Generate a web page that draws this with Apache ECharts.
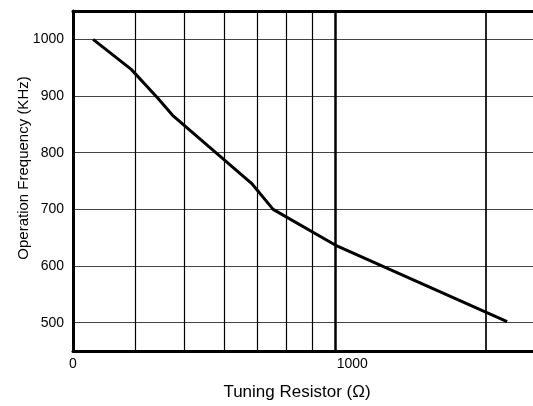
<!DOCTYPE html>
<html>
<head>
<meta charset="utf-8">
<script src="https://cdn.jsdelivr.net/npm/echarts@6/dist/echarts.min.js"></script>
<style>
  html, body { margin: 0; padding: 0; background: #fff; }
  #chart { width: 533px; height: 406px; }
</style>
</head>
<body>
<div id="chart"></div>
<script>
// Data
const resistance = [329, 392, 443, 474, 681, 752, 1000, 2202];   // Ω
const frequency  = [1000, 947, 896, 866, 746, 700, 637, 502];     // KHz
const gridX = [400, 500, 600, 700, 800, 900, 1000, 2000];         // vertical grid lines (Ω)
const xTickLabels = { 300: '0', 1000: '1000' };
const xTitle = 'Tuning Resistor (Ω)';
const yTitle = 'Operation Frequency (KHz)';

const FONT = "'Liberation Sans', Arial, sans-serif";
const chart = echarts.init(document.getElementById('chart'), null, { renderer: 'canvas' });

const gridLineStyle = v => {
  if (v === 1000) return { color: '#000', width: 2.5, type: 'solid' };
  if (v === 2000) return { color: '#000', width: 1.7, type: 'solid' };
  return { color: '#000', width: 1.2, type: 'solid' };
};

const boldLine = { show: true, onZero: false, lineStyle: { color: '#000', width: 3 } };

chart.setOption({
  animation: false,
  backgroundColor: '#fff',
  grid: { left: 73, right: 0, top: 11, bottom: 55 },
  xAxis: [{
    type: 'log', logBase: 10, min: 300, max: 2480, position: 'bottom',
    axisLine: boldLine, axisTick: { show: false }, splitLine: { show: false },
    axisLabel: {
      showMinLabel: true, showMaxLabel: false, margin: 6,
      fontFamily: FONT, fontSize: 14, color: '#000',
      formatter: v => {
        const r = Math.round(v);
        if (r === 300) return xTickLabels[300];
        if (r === 1000) return '{r|' + xTickLabels[1000] + '}';
        return '';
      },
      rich: { r: { fontFamily: FONT, fontSize: 14, color: '#000', padding: [0, 0, 0, 34] } }
    }
  }, {
    type: 'log', logBase: 10, min: 300, max: 2480, position: 'top',
    axisLine: boldLine, axisTick: { show: false }, splitLine: { show: false },
    axisLabel: { show: false }
  }],
  yAxis: {
    type: 'value', min: 450, max: 1050,
    axisLine: boldLine, axisTick: { show: false },
    splitLine: { show: true, lineStyle: { color: '#444', width: 1 } },
    axisLabel: {
      showMinLabel: false, showMaxLabel: false, margin: 9,
      fontFamily: FONT, fontSize: 14, color: '#000', padding: [6, 0, 0, 0],
      formatter: v => String(Math.round(v))
    }
  },
  graphic: [
    { type: 'text', x: 297, y: 392,
      style: { text: xTitle, font: '17px ' + FONT, fill: '#000', textAlign: 'center', textVerticalAlign: 'middle' } },
    { type: 'text', x: 24, y: 168, rotation: Math.PI / 2,
      style: { text: yTitle, font: '15px ' + FONT, fill: '#000', textAlign: 'center', textVerticalAlign: 'middle' } }
  ],
  series: [{
    type: 'line',
    xAxisIndex: 0,
    data: resistance.map((r, i) => [r, frequency[i]]),
    symbol: 'none',
    lineStyle: { color: '#000', width: 3 },
    z: 5,
    markLine: {
      silent: true, symbol: 'none', animation: false,
      label: { show: false },
      data: gridX.map(v => ({ xAxis: v, lineStyle: gridLineStyle(v) }))
    }
  }]
});
</script>
</body>
</html>
